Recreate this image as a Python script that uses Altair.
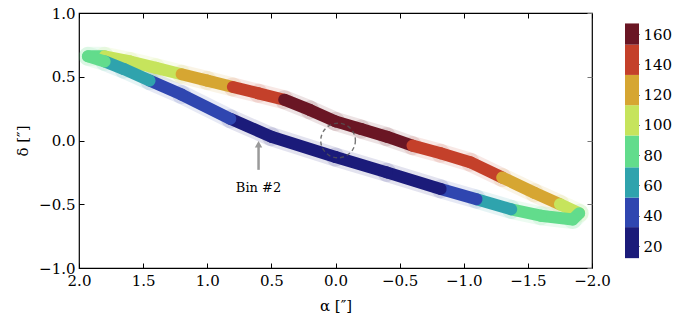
import altair as alt
import pandas as pd

# ---- orbit samples (alpha, delta, colour value) ----
alpha = [1.93, 1.80, 1.60, 1.40, 1.20, 1.00, 0.80, 0.60, 0.40, 0.20, 0.00, -0.20, -0.40, -0.60, -0.82,
         -1.05, -1.30, -1.55, -1.75, -1.90,
         -1.85, -1.60, -1.37, -1.10, -0.82, -0.40, 0.00, 0.50, 0.82, 1.20, 1.45, 1.65, 1.80, 1.93]
delta = [0.66, 0.66, 0.62, 0.57, 0.52, 0.47, 0.42, 0.37, 0.32, 0.24, 0.15, 0.09, 0.03, -0.04, -0.10,
         -0.17, -0.29, -0.41, -0.50, -0.57,
         -0.62, -0.59, -0.54, -0.46, -0.38, -0.25, -0.13, 0.03, 0.17, 0.36, 0.47, 0.56, 0.62, 0.66]
value = [78, 88, 98, 108, 116, 124, 136, 148, 156, 162, 165, 163, 160, 155, 148,
         140, 130, 120, 110, 98,
         85, 80, 64, 48, 36, 26, 20, 24, 32, 42, 55, 65, 72, 78]

# colour bands of the colour bar
band_edges = [12, 32.5, 52, 72, 93, 113, 133, 153, 167]
band_colors = ["#1b1b7a", "#2f46b0", "#2fa3ad", "#62dc8c", "#c6e45c", "#d6a632", "#c4402a", "#6a1624"]
cbar_ticks = [20, 40, 60, 80, 100, 120, 140, 160]

x_ticks = [-2.0, -1.5, -1.0, -0.5, 0.0, 0.5, 1.0, 1.5, 2.0]
y_ticks = [-1.0, -0.5, 0.0, 0.5, 1.0]

# annotation items
circle_a, circle_d = [-0.02], [0.0]
arrow_a, arrow_d0, arrow_d1 = [0.6], [-0.23], [-0.03]
label_a, label_d, label_txt = [0.6], [-0.37], ["Bin #2"]

FONT = "DejaVu Serif"

seg = pd.DataFrame({
    "a1": alpha[:-1], "a2": alpha[1:],
    "d1": delta[:-1], "d2": delta[1:],
    "val": [(value[i] + value[i + 1]) / 2 for i in range(len(value) - 1)],
})

cscale = alt.Scale(type="threshold", domain=band_edges[1:-1], range=band_colors)
xscale = alt.Scale(domain=[-2, 2], reverse=True, nice=False, zero=False)
yscale = alt.Scale(domain=[-1, 1], nice=False, zero=False)
minus_expr = "replace(format(datum.value, '.1f'), '-', '\u2212')"

x_axis = alt.Axis(orient="bottom", values=x_ticks, labelExpr=minus_expr, tickSize=5, offset=-5,
                  domain=False, grid=False, tickColor="black", labelColor="black", labelFont=FONT,
                  labelFontSize=15, labelPadding=5, labelFlush=False, labelOverlap=False,
                  title="\u03b1 [\u2033]", titleFont=FONT, titleFontSize=15, titleFontWeight="normal",
                  titleColor="black", titlePadding=10)
y_axis = alt.Axis(orient="left", values=y_ticks, labelExpr=minus_expr, tickSize=5, offset=-5,
                  domain=False, grid=False, tickColor="black", labelColor="black", labelFont=FONT,
                  labelFontSize=15, labelPadding=4, labelFlush=False, labelOverlap=False,
                  title="\u03b4 [\u2033]", titleFont=FONT, titleFontSize=15, titleFontWeight="normal",
                  titleColor="black", titlePadding=8)
x_axis_top = alt.Axis(orient="top", values=x_ticks, tickSize=5, offset=-5, labels=False, domain=False,
                      grid=False, tickColor="black", title=None)
y_axis_right = alt.Axis(orient="right", values=y_ticks, tickSize=5, offset=-5, labels=False, domain=False,
                        grid=False, tickColor="#777", title=None)

base = alt.Chart(seg)
glow = base.mark_rule(strokeWidth=19, opacity=0.12, strokeCap="round").encode(
    x=alt.X("a1:Q", scale=xscale, axis=x_axis), x2="a2:Q",
    y=alt.Y("d1:Q", scale=yscale, axis=y_axis), y2="d2:Q",
    color=alt.Color("val:Q", scale=cscale, legend=None),
)
core = base.mark_rule(strokeWidth=12, opacity=1, strokeCap="round").encode(
    x=alt.X("a1:Q", axis=None), x2="a2:Q",
    y=alt.Y("d1:Q", axis=None), y2="d2:Q",
    color=alt.Color("val:Q", scale=cscale, legend=None),
)

circ_df = pd.DataFrame({"a": circle_a, "d": circle_d})
circle = alt.Chart(circ_df).mark_point(shape="circle", size=1200, filled=False, stroke="#555555",
                                       strokeDash=[4, 3], strokeWidth=1.4, opacity=0.8).encode(
    x=alt.X("a:Q", axis=None), y=alt.Y("d:Q", axis=None))

frame_ticks = alt.Chart(circ_df).mark_point(opacity=0).encode(
    x=alt.X("a:Q", axis=x_axis_top), y=alt.Y("d:Q", axis=y_axis_right))

arr_df = pd.DataFrame({"a": arrow_a, "d0": arrow_d0, "d1": arrow_d1})
shaft = alt.Chart(arr_df).mark_rule(color="#9a9a9a", strokeWidth=2.5).encode(
    x=alt.X("a:Q", axis=None), y=alt.Y("d0:Q", axis=None), y2="d1:Q")
head = alt.Chart(arr_df).mark_point(shape="triangle-up", filled=True, color="#9a9a9a", size=55,
                                    opacity=1).encode(
    x=alt.X("a:Q", axis=None), y=alt.Y("d1:Q", axis=None))

lab_df = pd.DataFrame({"a": label_a, "d": label_d, "t": label_txt})
label = alt.Chart(lab_df).mark_text(font=FONT, fontSize=13, color="black", align="center",
                                    baseline="middle").encode(
    x=alt.X("a:Q", axis=None), y=alt.Y("d:Q", axis=None), text="t:N")

main = alt.layer(glow, core, circle, shaft, head, label, frame_ticks).resolve_axis(
    x="independent", y="independent").properties(
    width=513, height=255, view=alt.ViewBackground(stroke="black", strokeWidth=1.2))

cb_df = pd.DataFrame({"lo": band_edges[:-1], "hi": band_edges[1:],
                      "mid": [(band_edges[i] + band_edges[i + 1]) / 2 for i in range(len(band_edges) - 1)]})
cbar = alt.Chart(cb_df).mark_rect().encode(
    x=alt.value(0), x2=alt.value(14),
    y=alt.Y("lo:Q", scale=alt.Scale(domain=[5.5, 173.9], nice=False, zero=False),
            axis=alt.Axis(orient="right", values=cbar_ticks, tickSize=4, offset=-4, domain=False,
                          grid=False, tickColor="black", labelColor="black", labelFont=FONT,
                          labelFontSize=15, labelPadding=4, labelFlush=False, labelOverlap=False,
                          title=None)),
    y2="hi:Q",
    color=alt.Color("mid:Q", scale=cscale, legend=None),
).properties(width=14, height=255, view=alt.ViewBackground(stroke="transparent"))

chart = alt.hconcat(main, cbar, spacing=13).properties(
    padding={"left": 14, "top": 5, "right": 0, "bottom": 0},
    background="white",
)

chart.save("out.html", embed_options={"renderer": "svg", "actions": False})
